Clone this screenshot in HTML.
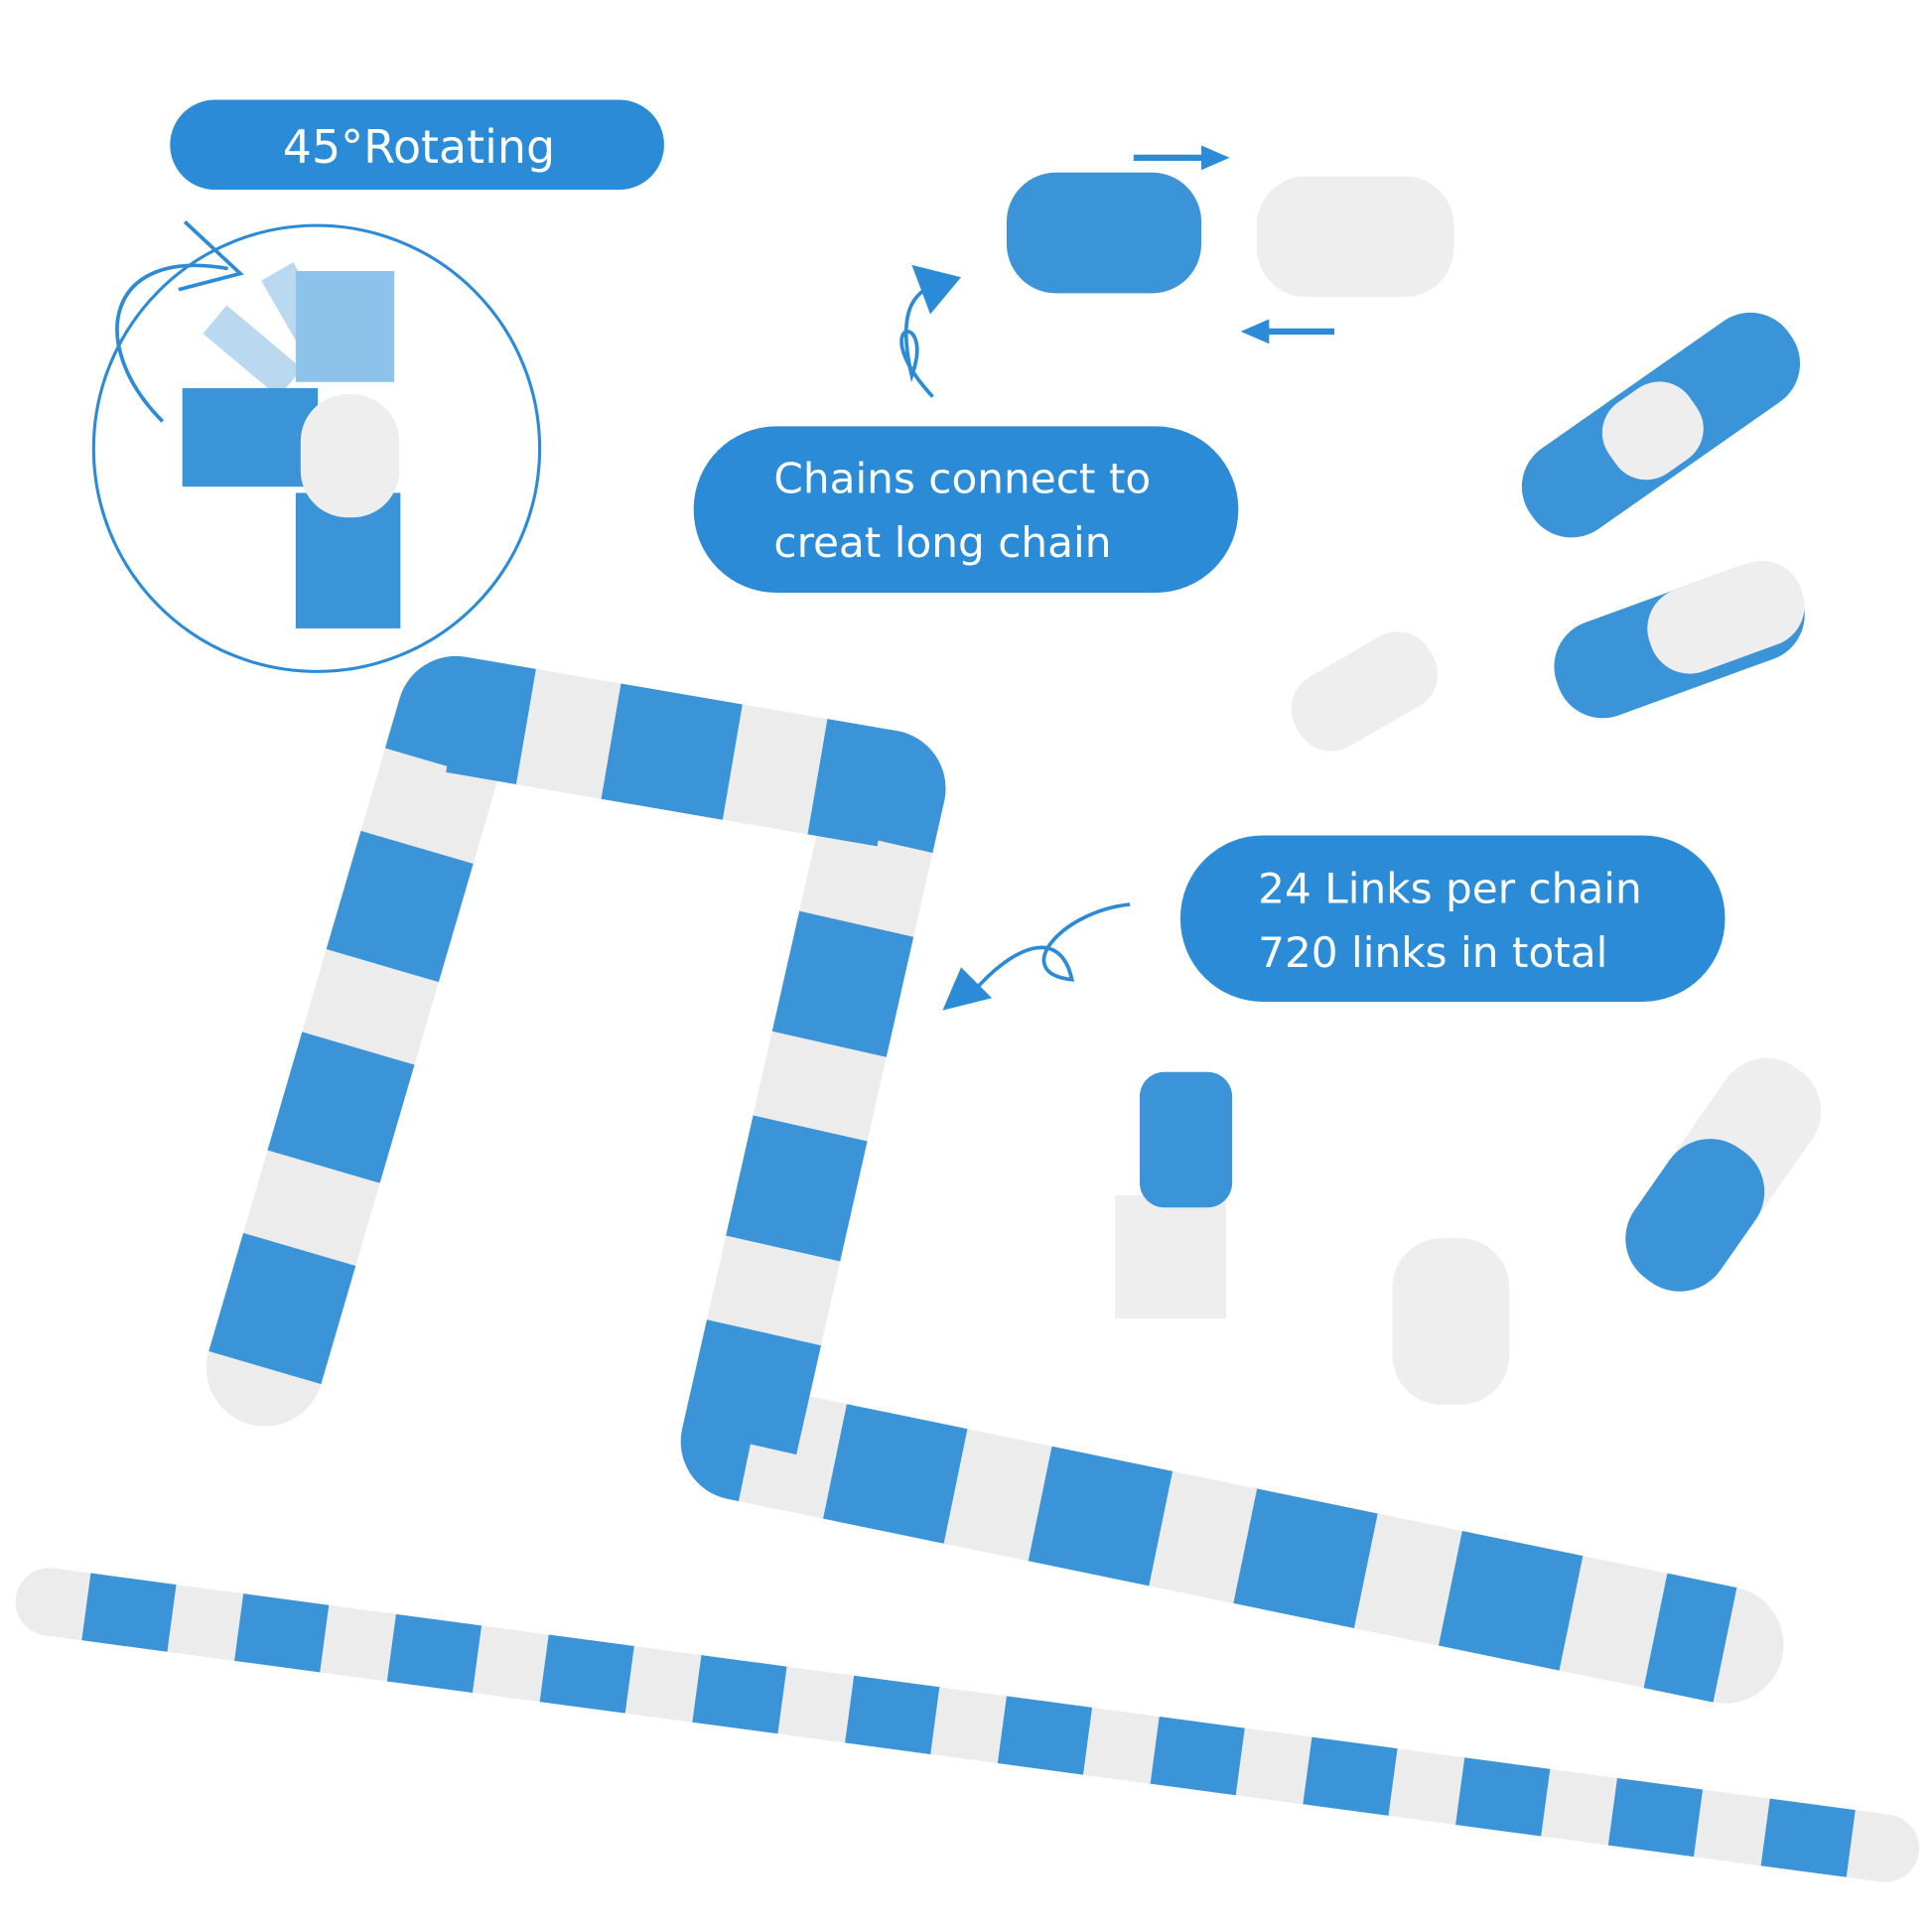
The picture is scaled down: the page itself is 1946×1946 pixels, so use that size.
<!DOCTYPE html>
<html><head><meta charset="utf-8"><style>
html,body{margin:0;padding:0;background:#fff;}
svg{display:block;}
text{font-family:"DejaVu Sans","Liberation Sans",sans-serif;fill:#fff;}
</style></head><body>
<svg width="1946" height="1946" viewBox="0 0 1568 1568" xmlns="http://www.w3.org/2000/svg">
<rect width="1568" height="1568" fill="#fff"/>
<!-- pills -->
<rect x="138" y="81" width="401" height="73" rx="36.5" fill="#2b8bd6"/>
<text x="340" y="132" font-size="37" text-anchor="middle">45°Rotating</text>
<rect x="563" y="346" width="442" height="135" rx="67" fill="#2b8bd6"/>
<text x="628" y="400" font-size="34">Chains connect to</text>
<text x="628" y="452" font-size="34">creat long chain</text>
<rect x="958" y="678" width="442" height="135" rx="67" fill="#2b8bd6"/>
<text x="1021" y="733" font-size="34">24 Links per chain</text>
<text x="1021" y="785" font-size="34">720 links in total</text>
<!-- circle -->
<circle cx="257" cy="364" r="181" fill="none" stroke="#2b8bd6" stroke-width="2.5"/>
<path d="M132 342 C70 280 85 200 185 218" fill="none" stroke="#2b8bd6" stroke-width="3"/>
<path d="M150 180 L195 222 L145 235" fill="none" stroke="#2b8bd6" stroke-width="3"/>
<g opacity="0.35" fill="#3b93d8"><rect x="165" y="270" width="80" height="30" transform="rotate(40 205 285)"/><rect x="205" y="240" width="80" height="30" transform="rotate(60 245 255)"/></g>
<rect x="240" y="220" width="80" height="90" fill="#8dc2ea"/>
<rect x="148" y="315" width="110" height="80" fill="#3b93d8"/>
<rect x="240" y="400" width="85" height="110" fill="#3b93d8"/>
<rect x="244" y="320" width="80" height="100" rx="38" fill="#eeeeee"/>
<!-- arrows top -->
<path d="M920 128 L985 128" stroke="#2b8bd6" stroke-width="5"/><path d="M975 118 L998 128 L975 138Z" fill="#2b8bd6"/>
<path d="M1083 269 L1020 269" stroke="#2b8bd6" stroke-width="5"/><path d="M1030 259 L1007 269 L1030 279Z" fill="#2b8bd6"/>
<path d="M757 322 C700 260 760 250 740 305 C725 240 750 235 765 228" fill="none" stroke="#2b8bd6" stroke-width="3"/>
<path d="M740 215 L780 225 L755 255Z" fill="#2b8bd6"/>
<path d="M917 734 C860 740 820 790 870 795 C860 750 820 770 790 805" fill="none" stroke="#2b8bd6" stroke-width="3"/>
<path d="M765 820 L780 785 L805 810Z" fill="#2b8bd6"/>
<!-- pieces top -->
<rect x="817" y="140" width="158" height="98" rx="40" fill="#3b93d8"/>
<rect x="1020" y="143" width="160" height="98" rx="40" fill="#eeeeee"/>
<g transform="rotate(-35 1348 345)"><rect x="1220" y="305" width="256" height="80" rx="38" fill="#3b93d8"/><rect x="1300" y="310" width="80" height="70" rx="30" fill="#eeeeee"/></g>
<g transform="rotate(-20 1363 520)"><rect x="1258" y="480" width="210" height="80" rx="38" fill="#3b93d8"/><rect x="1340" y="480" width="130" height="70" rx="33" fill="#eeeeee"/></g>
<g transform="rotate(-30 1105 562)"><rect x="1045" y="530" width="125" height="65" rx="30" fill="#eeeeee"/></g>
<!-- small pieces -->
<rect x="905" y="970" width="90" height="100" fill="#eeeeee"/><rect x="925" y="870" width="75" height="110" rx="20" fill="#3b93d8"/>
<rect x="1130" y="1005" width="95" height="135" rx="40" fill="#eeeeee"/>
<g transform="rotate(35 1403 948)"><rect x="1360" y="850" width="85" height="200" rx="40" fill="#eeeeee"/><rect x="1360" y="930" width="85" height="130" rx="40" fill="#3b93d8"/></g>
<!-- chains -->
<g fill="none">
<path d="M215 1110 L370 580 L720 640 L600 1170 L1400 1335" stroke="#ececec" stroke-width="95" stroke-linejoin="round" stroke-linecap="round"/>
<path d="M215 1110 L370 580 L720 640 L600 1170 L1400 1335" stroke="#3b93d8" stroke-width="95" stroke-dasharray="100 70" stroke-linejoin="round"/>
<path d="M40 1300 L1530 1500" stroke="#ececec" stroke-width="55" stroke-linecap="round"/>
<path d="M70 1304 L1530 1500" stroke="#3b93d8" stroke-width="55" stroke-dasharray="70 55"/>
</g>
</svg>
</body></html>
